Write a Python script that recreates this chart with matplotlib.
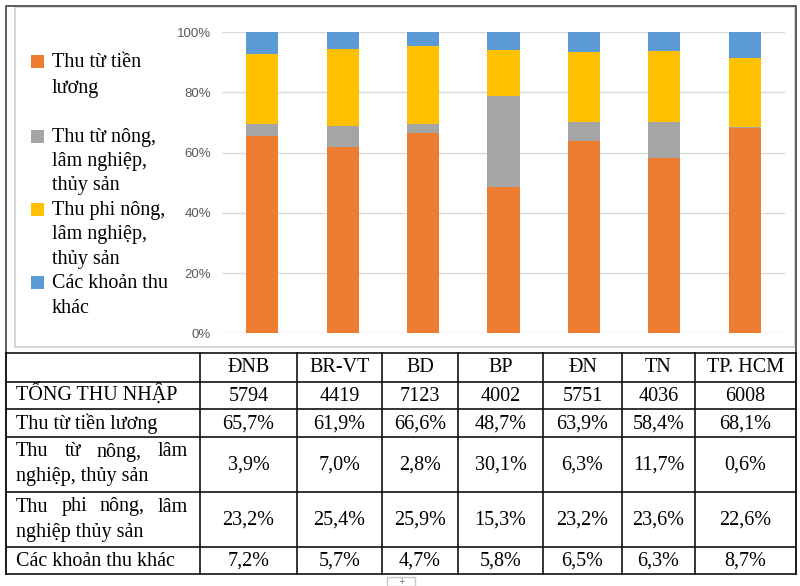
import numpy as np
import matplotlib
matplotlib.use("Agg")
import matplotlib.pyplot as plt
from matplotlib.patches import Rectangle

regions = ["ĐNB", "BR-VT", "BD", "BP", "ĐN", "TN", "TP. HCM"]
total_income = [5794, 4419, 7123, 4002, 5751, 4036, 6008]
wage = [65.7, 61.9, 66.6, 48.7, 63.9, 58.4, 68.1]
agri = [3.9, 7.0, 2.8, 30.1, 6.3, 11.7, 0.6]
non_agri = [23.2, 25.4, 25.9, 15.3, 23.2, 23.6, 22.6]
other = [7.2, 5.7, 4.7, 5.8, 6.5, 6.3, 8.7]

legend_labels = ["Thu từ tiền\nlương", "Thu từ nông,\nlâm nghiệp,\nthủy sản",
                 "Thu phi nông,\nlâm nghiệp,\nthủy sản", "Các khoản thu\nkhác"]
row_labels = ["TỔNG THU NHẬP", "Thu từ tiền lương", "Thu từ nông, lâm\nnghiệp, thủy sản",
              "Thu phi nông, lâm\nnghiệp thủy sản", "Các khoản thu khác"]
yticks = [0, 20, 40, 60, 80, 100]

COLORS = ["#ED7D31", "#A5A5A5", "#FFC000", "#5B9BD5"]
SERIF = ["Liberation Serif", "DejaVu Serif"]
FS = 14.5

W, H = 800, 586
fig = plt.figure(figsize=(W / 100, H / 100), dpi=100)

# overlay in pixel coords (y down) for frame, legend, table
ov = fig.add_axes([0, 0, 1, 1])
ov.set_xlim(0, W); ov.set_ylim(H, 0); ov.set_axis_off()

# ---- stacked 100% bars ----
ax = fig.add_axes([222 / W, 1 - 333.3 / H, (785 - 222) / W, (333.3 - 32.3) / H])
ax.set_facecolor("none")
series = np.array([wage, agri, non_agri, other], dtype=float)
frac = series / series.sum(axis=0)
x = np.arange(len(regions))
bottom = np.zeros(len(regions))
for vals, col in zip(frac, COLORS):
    ax.bar(x, vals, 0.4, bottom=bottom, color=col, linewidth=0, zorder=3)
    bottom += vals
ax.set_xlim(-0.5, 6.5); ax.set_ylim(0, 1)
ax.set_yticks([t / 100 for t in yticks])
ax.set_yticklabels([f"{t}%" for t in yticks], fontsize=9.5, color="#595959",
                   family=["Liberation Sans", "DejaVu Sans"])
ax.tick_params(axis="y", length=0, pad=8)
ax.set_xticks([])
ax.grid(axis="y", color="#d9d9d9", lw=1.0, zorder=0)
for s in ax.spines.values():
    s.set_visible(False)

# ---- frames ----
ov.add_patch(Rectangle((15, 7), 780, 340, fill=False, ec="#d0d0d0", lw=1.2))
ov.plot([6, 6, 796, 796], [574, 6, 6, 574], color="#505050", lw=1.3)

# ---- legend ----
leg_first = [66.7, 141.7, 215, 288.3]
step = 24.3
for lab, col, yb in zip(legend_labels, COLORS, leg_first):
    ov.add_patch(Rectangle((31, yb - 12), 13, 13, color=col, lw=0))
    for i, line in enumerate(lab.split("\n")):
        dy = i * (26.6 if lab.startswith("Thu từ tiền") else step)
        ov.text(52, yb + dy, line, ha="left", va="baseline", fontsize=FS, family=SERIF)

# ---- table ----
col_x = [6, 200, 297, 382, 458, 543, 622, 695, 796]
row_y = [353, 382, 409, 437, 492, 547, 574]
lc = "#111111"
for yy in row_y:
    ov.plot([6, 796], [yy, yy], color=lc, lw=1.2)
for xx in col_x:
    ov.plot([xx, xx], [row_y[0], row_y[-1]], color=lc, lw=1.2)

renderer = fig.canvas.get_renderer()


def justify(words, x0, x1, y):
    ts = [ov.text(0, y, w, ha="left", va="baseline", fontsize=FS, family=SERIF) for w in words]
    ws = [t.get_window_extent(renderer).width for t in ts]
    gap = (x1 - x0 - sum(ws)) / (len(words) - 1)
    xx = x0
    for t, w in zip(ts, ws):
        t.set_x(xx)
        xx += w + gap


def fmt(v):
    return f"{v:.1f}%".replace(".", ",")


body = [[str(v) for v in total_income], [fmt(v) for v in wage], [fmt(v) for v in agri],
        [fmt(v) for v in non_agri], [fmt(v) for v in other]]

# header
yc = (row_y[0] + row_y[1]) / 2
for j, reg in enumerate(regions):
    ov.text((col_x[j + 1] + col_x[j + 2]) / 2, yc + 5, reg, ha="center", va="baseline",
            fontsize=FS, family=SERIF)

for i, (lab, vals) in enumerate(zip(row_labels, body)):
    yc = (row_y[i + 1] + row_y[i + 2]) / 2
    lines = lab.split("\n")
    if len(lines) == 1:
        ov.text(16, yc + 5.5, lab, ha="left", va="baseline", fontsize=FS, family=SERIF)
    else:
        justify(lines[0].split(" "), 16, 188, yc - 8)
        ov.text(16, yc + 17, lines[1], ha="left", va="baseline", fontsize=FS, family=SERIF)
    for j, v in enumerate(vals):
        ov.text((col_x[j + 1] + col_x[j + 2]) / 2, yc + 5.5, v, ha="center", va="baseline",
                fontsize=FS, family=SERIF)

# little "+" tab under the table
ov.add_patch(Rectangle((387, 577), 28, 8.5, fill=False, ec="#c8c8c8", lw=1))
ov.text(401, 581, "+", ha="center", va="center", fontsize=5.5, color="#666666")

fig.savefig("out.png", dpi=100)
